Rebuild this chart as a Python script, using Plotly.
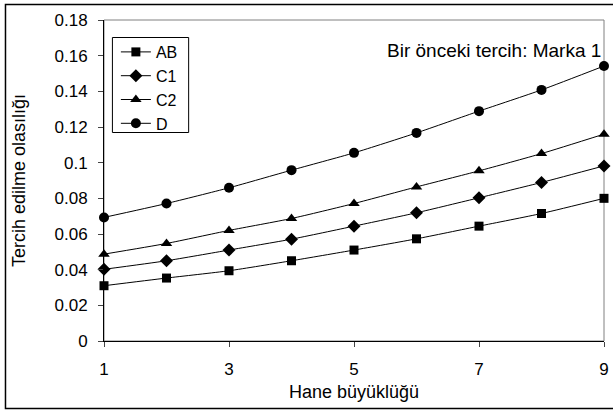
import plotly.graph_objects as go

hane = [1, 2, 3, 4, 5, 6, 7, 8, 9]
ab = [0.031, 0.0353, 0.0394, 0.045, 0.051, 0.0573, 0.0644, 0.0715, 0.080]
c1 = [0.0402, 0.045, 0.051, 0.0571, 0.0644, 0.0719, 0.0803, 0.0889, 0.0982]
c2 = [0.0487, 0.0547, 0.062, 0.0687, 0.0771, 0.0864, 0.0954, 0.1051, 0.116]
d = [0.0693, 0.0771, 0.0859, 0.0958, 0.1055, 0.1167, 0.1289, 0.1408, 0.1542]

x_ticks = [1, 3, 5, 7, 9]
y_ticks = [0, 0.02, 0.04, 0.06, 0.08, 0.1, 0.12, 0.14, 0.16, 0.18]
y_labels = ["0", "0.02", "0.04", "0.06", "0.08", "0.1", "0.12", "0.14", "0.16", "0.18"]

series = [
    ("AB", ab, "square", 9),
    ("C1", c1, "diamond", 10),
    ("C2", c2, "triangle-up", 10),
    ("D", d, "circle", 10),
]

FONT = "Arial, Liberation Sans, sans-serif"

fig = go.Figure()
for name, vals, sym, size in series:
    fig.add_trace(go.Scatter(
        x=hane, y=vals, name=name,
        mode="lines+markers",
        line=dict(color="black", width=1, shape="spline", smoothing=0.6),
        marker=dict(symbol=sym, size=size, color="black"),
        cliponaxis=False,
    ))

L, R, T, B = 104, 4, 20, 71
W, H = 613, 412
pw, ph = W - L - R, H - T - B

def px_x(v):
    return (v - L) / pw

def px_y(v):
    return (H - B - v) / ph

fig.update_layout(
    width=W, height=H,
    margin=dict(l=L, r=R, t=T, b=B),
    paper_bgcolor="white", plot_bgcolor="white",
    font=dict(family=FONT, size=17, color="black"),
    showlegend=True,
    legend=dict(
        x=px_x(116), y=px_y(35), xanchor="left", yanchor="top",
        borderwidth=0, bgcolor="rgba(0,0,0,0)",
        font=dict(size=16), tracegroupgap=0, itemwidth=30,
    ),
    xaxis=dict(
        range=[1, 9], tickvals=x_ticks, ticks="outside", ticklen=5,
        showline=True, linecolor="black", linewidth=1, showgrid=False,
        zeroline=False, tickfont=dict(size=17), ticklabeloverflow="allow",
        ticklabelstandoff=8,
        title=dict(text="Hane büyüklüğü", font=dict(size=18), standoff=6),
    ),
    yaxis=dict(
        range=[0, 0.18], tickvals=y_ticks, ticktext=y_labels, ticks="outside", ticklen=5,
        showline=True, linecolor="black", linewidth=1, showgrid=False,
        zeroline=False, tickfont=dict(size=17), ticklabelstandoff=7,
        title=dict(text="Tercih edilme olasılığı", font=dict(size=18), standoff=24),
    ),
    shapes=[
        dict(type="rect", xref="paper", yref="paper", x0=0, x1=1, y0=0, y1=1,
             line=dict(color="#808080", width=1), layer="below"),
        dict(type="rect", xref="paper", yref="paper",
             x0=px_x(4.5), x1=px_x(W + 10), y0=px_y(408.5), y1=px_y(4.5),
             line=dict(color="black", width=1.5), layer="below"),
        dict(type="rect", xref="paper", yref="paper",
             x0=px_x(112.5), x1=px_x(189.5), y0=px_y(132.5), y1=px_y(37.5),
             line=dict(color="black", width=1), fillcolor="white", layer="below"),
    ],
    annotations=[
        dict(text="Bir önceki tercih: Marka 1", xref="paper", yref="paper",
             x=px_x(608), y=px_y(50), xanchor="right", yanchor="middle",
             showarrow=False, font=dict(size=19)),
    ],
)

fig.write_html("out.html", config={"displayModeBar": False},
               post_script="document.body.style.margin='0';")
